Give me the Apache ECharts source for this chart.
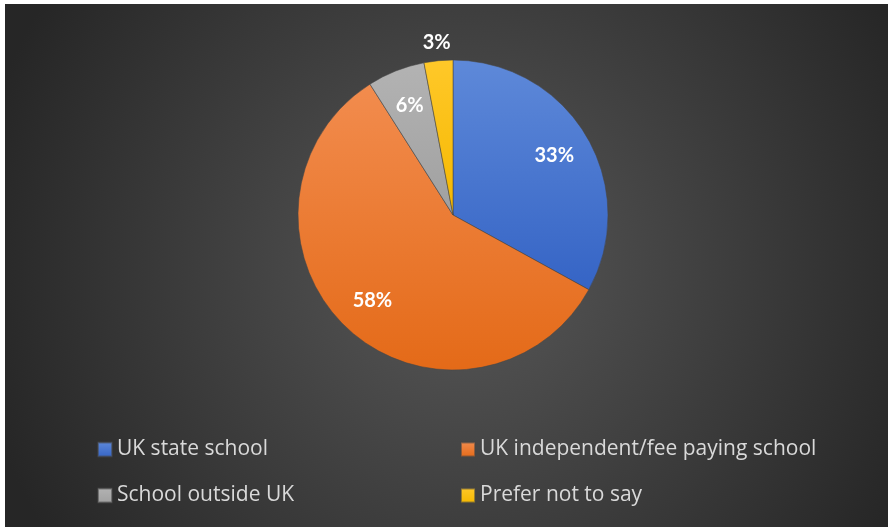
<!DOCTYPE html>
<html>
<head>
<meta charset="utf-8">
<script src="https://cdn.jsdelivr.net/npm/echarts@6/dist/echarts.min.js"></script>
<style>
  html, body { margin: 0; padding: 0; background: #ffffff; }
  #chart { position: absolute; left: 5px; top: 4px; width: 883px; height: 523px; }
</style>
</head>
<body>
<div id="chart"></div>
<script>
// School type shares (percent)
const categories = [
  'UK state school',
  'UK independent/fee paying school',
  'School outside UK',
  'Prefer not to say'
];
const shares = [33, 58, 6, 3];

// Legend columns
const legendLeftColumn = ['UK state school', 'School outside UK'];
const legendRightColumn = ['UK independent/fee paying school', 'Prefer not to say'];

// Slice fills: lighter at the top, deeper at the bottom
const sliceColors = [
  ['#5E89D9', '#3564C5'],
  ['#F28C4E', '#E46A18'],
  ['#B3B3B3', '#A0A0A0'],
  ['#FFC829', '#F5B800']
];

function vGrad(c) {
  return {
    type: 'linear', x: 0, y: 0, x2: 0, y2: 1,
    colorStops: [{ offset: 0, color: c[0] }, { offset: 1, color: c[1] }]
  };
}

const center = [448, 211];
const R = 155;
const labelFont = { color: '#ffffff', fontSize: 20, fontWeight: 'bold', fontFamily: 'Lato, "Open Sans", sans-serif' };

const mainData = categories.map((name, i) => ({
  name: name,
  value: shares[i],
  itemStyle: { color: vGrad(sliceColors[i]) }
}));

// Labels for the larger slices sit in a ring inside the pie
const innerLabelData = categories.map((name, i) => ({
  name: name,
  value: shares[i],
  label: { show: i < 3 }
}));

// The smallest slice gets its label just outside the rim
const outerLabelData = categories.map((name, i) => ({
  name: name,
  value: shares[i],
  label: { show: i === 3 }
}));

const chart = echarts.init(document.getElementById('chart'), null, { renderer: 'canvas' });

const legendText = { color: '#D9D9D9', fontSize: 21, fontFamily: '"Open Sans", sans-serif' };

chart.setOption({
  animation: false,
  backgroundColor: {
    type: 'radial', x: 0.52, y: 0.5, r: 0.95,
    colorStops: [
      { offset: 0, color: '#585858' },
      { offset: 1, color: '#262626' }
    ]
  },
  legend: [
    {
      data: legendLeftColumn,
      orient: 'vertical',
      left: 92, top: 435,
      padding: 0,
      icon: 'rect', itemWidth: 14, itemHeight: 14,
      itemGap: 25,
      selectedMode: false,
      textStyle: legendText
    },
    {
      data: legendRightColumn,
      orient: 'vertical',
      left: 455, top: 435,
      padding: 0,
      icon: 'rect', itemWidth: 14, itemHeight: 14,
      itemGap: 25,
      selectedMode: false,
      textStyle: legendText
    }
  ],
  series: [
    {
      name: 'School type',
      type: 'pie',
      center: center,
      radius: [0, R],
      startAngle: 90,
      clockwise: true,
      silent: true,
      label: { show: false },
      labelLine: { show: false },
      itemStyle: { borderColor: 'rgba(70,70,70,0.55)', borderWidth: 1 },
      emphasis: { disabled: true },
      data: mainData
    },
    {
      name: 'Inner labels',
      type: 'pie',
      center: center,
      radius: [R * 0.48, R],
      startAngle: 90,
      silent: true,
      itemStyle: { color: 'rgba(0,0,0,0)' },
      label: Object.assign({ position: 'inside', formatter: '{c}%' }, labelFont),
      labelLine: { show: false },
      emphasis: { disabled: true },
      data: innerLabelData
    },
    {
      name: 'Outer labels',
      type: 'pie',
      center: center,
      radius: [R + 3, R + 27],
      startAngle: 90,
      silent: true,
      itemStyle: { color: 'rgba(0,0,0,0)' },
      label: Object.assign({ position: 'inside', formatter: '{c}%' }, labelFont),
      labelLine: { show: false },
      emphasis: { disabled: true },
      data: outerLabelData
    }
  ]
});
</script>
</body>
</html>
